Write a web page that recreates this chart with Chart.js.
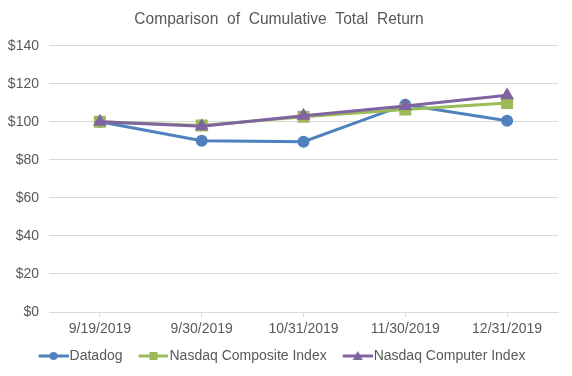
<!DOCTYPE html>
<html>
<head>
<meta charset="utf-8">
<script src="https://cdn.jsdelivr.net/npm/chart.js@4"></script>
<style>
  html, body { margin: 0; padding: 0; background: #fff; }
  #wrap { width: 572px; height: 376px; }
</style>
</head>
<body>
<div id="wrap"><canvas id="chart" width="572" height="376"></canvas></div>
<script>
// data
const dates = ['9/19/2019', '9/30/2019', '10/31/2019', '11/30/2019', '12/31/2019'];
const datadog = [100, 90.0, 89.5, 109.0, 100.6];
const nasdaqComposite = [100, 98.0, 102.6, 106.5, 109.9];
const nasdaqComputer = [100, 97.6, 103.2, 108.3, 114.0];
const yTicks = [0, 20, 40, 60, 80, 100, 120, 140];

const BLUE = '#4f81bd';
const GREEN = '#9bbb59';
const PURPLE = '#8064a2';
const TEXT = '#595959';

Chart.defaults.font.family = '"Liberation Sans", Arial, sans-serif';
Chart.defaults.color = TEXT;

// line + marker swatch for the legend, like Excel does
// (blank strip on the left so the items sit a bit further apart)
function legendSwatch(color, style, r) {
  const c = document.createElement('canvas');
  c.width = 42;
  c.height = 14;
  const ctx = c.getContext('2d');
  const cx = 27;
  ctx.strokeStyle = color;
  ctx.lineWidth = 3;
  ctx.beginPath();
  ctx.moveTo(12, 7);
  ctx.lineTo(42, 7);
  ctx.stroke();
  ctx.fillStyle = color;
  ctx.beginPath();
  if (style === 'circle') {
    ctx.arc(cx, 7, r, 0, Math.PI * 2);
  } else if (style === 'rect') {
    ctx.rect(cx - r, 7 - r, r * 2, r * 2);
  } else {
    ctx.moveTo(cx, 7 - r - 1);
    ctx.lineTo(cx + r + 1, 7 + r);
    ctx.lineTo(cx - r - 1, 7 + r);
    ctx.closePath();
  }
  ctx.fill();
  return c;
}

const series = [
  { label: 'Datadog', data: datadog, color: BLUE, style: 'circle', radius: 6, order: 3 },
  { label: 'Nasdaq Composite Index', data: nasdaqComposite, color: GREEN, style: 'rect', radius: 8.5, order: 2 },
  { label: 'Nasdaq Computer Index', data: nasdaqComputer, color: PURPLE, style: 'triangle', radius: 8, order: 1 }
];

const swatches = [
  legendSwatch(BLUE, 'circle', 4),
  legendSwatch(GREEN, 'rect', 4),
  legendSwatch(PURPLE, 'triangle', 4)
];

new Chart(document.getElementById('chart'), {
  type: 'line',
  data: {
    labels: dates,
    datasets: series.map(s => ({
      label: s.label,
      data: s.data,
      borderColor: s.color,
      backgroundColor: s.color,
      borderWidth: 3,
      pointStyle: s.style,
      pointRadius: s.radius,
      pointBackgroundColor: s.color,
      pointBorderColor: s.color,
      pointBorderWidth: 0,
      tension: 0,
      order: s.order
    }))
  },
  options: {
    responsive: false,
    animation: false,
    layout: { padding: { left: 0, right: 14, top: 0, bottom: 3 } },
    scales: {
      x: {
        offset: true,
        grid: {
          display: true,
          drawOnChartArea: false,
          drawTicks: true,
          tickLength: 5,
          color: '#d9d9d9'
        },
        border: { color: '#d9d9d9' },
        ticks: { font: { size: 14 }, color: TEXT, padding: 4, maxRotation: 0 },
        afterFit: scale => { scale.height = 27; }
      },
      y: {
        min: 0,
        max: 140,
        afterBuildTicks: scale => { scale.ticks = yTicks.map(v => ({ value: v })); },
        grid: { color: '#d9d9d9', drawTicks: false },
        border: { display: false },
        ticks: {
          font: { size: 14 },
          color: TEXT,
          padding: 10,
          callback: v => '$' + v
        },
        afterFit: scale => { scale.width = 49; }
      }
    },
    plugins: {
      title: {
        display: true,
        text: 'Comparison  of  Cumulative  Total  Return',
        color: TEXT,
        font: { size: 15.6, weight: 'normal' },
        padding: { top: 10, bottom: 17 }
      },
      legend: {
        position: 'bottom',
        labels: {
          font: { size: 14 },
          color: TEXT,
          usePointStyle: true,
          pointStyleWidth: 30,
          padding: 10,
          generateLabels: chart => chart.data.datasets.map((ds, i) => ({
            text: ds.label,
            pointStyle: swatches[i],
            fillStyle: ds.borderColor,
            strokeStyle: ds.borderColor,
            lineWidth: 0,
            hidden: false,
            datasetIndex: i,
            fontColor: TEXT
          }))
        }
      },
      tooltip: { enabled: false }
    }
  }
});
</script>
</body>
</html>
